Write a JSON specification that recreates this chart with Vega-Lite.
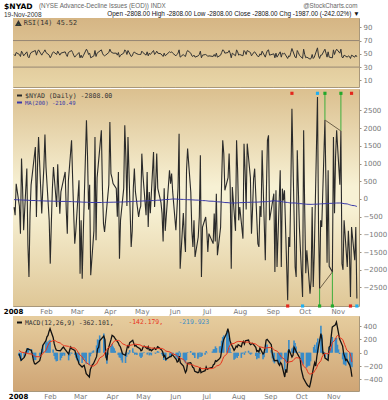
{
"$schema":"https://vega.github.io/schema/vega-lite/v6.json",
"background":"#ffffff",
"padding":{"left":2,"top":1,"right":0,"bottom":0},
"spacing":0,
"title":{"text":"(NYSE Advance-Decline Issues (EOD)) INDX","anchor":"start","frame":"group","dx":26,"offset":-8,"font":"Liberation Sans","fontSize":6.3,"fontWeight":"normal","color":"#666666"},
"config":{
 "font":"DejaVu Sans",
 "view":{"stroke":"#a8977a"},
 "axis":{"labelFont":"DejaVu Sans","labelFontSize":7,"labelColor":"#777777","tickColor":"#9a9080","tickSize":2,"domain":false,"gridColor":"#c4ad84","gridOpacity":0.55,"gridWidth":1,"labelPadding":2,"title":null,"labelOverlap":false,"labelFlush":false,"tickCount":40},
 "legend":{"labelFont":"DejaVu Sans Mono","title":null,"padding":0}
},
"resolve":{"scale":{"color":"independent","stroke":"independent","fill":"independent"},"legend":{"color":"independent","stroke":"independent","fill":"independent"}},
"datasets":{
"d":[
{"d":"2008-01-02","a":-230,"ma":-18,"r":49,"c":-15,"s":35,"h":-50},
{"d":"2008-01-03","a":-460,"ma":-20,"r":47,"c":-60,"s":25,"h":-85},
{"d":"2008-01-04","a":430,"ma":-22,"r":52,"c":-115,"s":10,"h":-125},
{"d":"2008-01-07","a":-200,"ma":-25,"r":49,"c":-70,"s":0,"h":-70},
{"d":"2008-01-08","a":-980,"ma":-27,"r":46,"c":-40,"s":-5,"h":-35},
{"d":"2008-01-09","a":1140,"ma":-28,"r":54,"c":20,"s":-5,"h":25},
{"d":"2008-01-10","a":300,"ma":-30,"r":51,"c":60,"s":-10,"h":70},
{"d":"2008-01-11","a":-880,"ma":-32,"r":47,"c":55,"s":-15,"h":70},
{"d":"2008-01-14","a":860,"ma":-34,"r":53,"c":35,"s":-20,"h":55},
{"d":"2008-01-15","a":-1300,"ma":-36,"r":46,"c":-40,"s":-30,"h":-10},
{"d":"2008-01-16","a":-2200,"ma":-38,"r":44,"c":-120,"s":-40,"h":-80},
{"d":"2008-01-17","a":-410,"ma":-40,"r":49,"c":-165,"s":-50,"h":-115},
{"d":"2008-01-18","a":400,"ma":-42,"r":52,"c":-170,"s":-60,"h":-110},
{"d":"2008-01-22","a":1470,"ma":-44,"r":55,"c":-120,"s":-60,"h":-60},
{"d":"2008-01-23","a":-510,"ma":-46,"r":48,"c":-60,"s":-50,"h":-10},
{"d":"2008-01-24","a":900,"ma":-48,"r":53,"c":20,"s":-35,"h":55},
{"d":"2008-01-25","a":1750,"ma":-50,"r":56,"c":110,"s":-10,"h":120},
{"d":"2008-01-28","a":-410,"ma":-52,"r":48,"c":180,"s":30,"h":150},
{"d":"2008-01-29","a":300,"ma":-53,"r":51,"c":240,"s":70,"h":170},
{"d":"2008-01-30","a":900,"ma":-55,"r":53,"c":260,"s":110,"h":150},
{"d":"2008-01-31","a":1820,"ma":-56,"r":56,"c":320,"s":140,"h":180},
{"d":"2008-02-01","a":900,"ma":-57,"r":52,"c":361,"s":165,"h":196},
{"d":"2008-02-04","a":-600,"ma":-58,"r":48,"c":230,"s":180,"h":50},
{"d":"2008-02-05","a":-1826,"ma":-60,"r":44,"c":136,"s":186,"h":-50},
{"d":"2008-02-06","a":-700,"ma":-61,"r":47,"c":80,"s":180,"h":-100},
{"d":"2008-02-07","a":300,"ma":-62,"r":51,"c":40,"s":170,"h":-130},
{"d":"2008-02-08","a":904,"ma":-63,"r":53,"c":35,"s":160,"h":-125},
{"d":"2008-02-11","a":-226,"ma":-64,"r":49,"c":30,"s":145,"h":-115},
{"d":"2008-02-12","a":979,"ma":-65,"r":54,"c":50,"s":130,"h":-80},
{"d":"2008-02-13","a":200,"ma":-66,"r":51,"c":70,"s":120,"h":-50},
{"d":"2008-02-14","a":-414,"ma":-67,"r":48,"c":85,"s":110,"h":-25},
{"d":"2008-02-15","a":200,"ma":-68,"r":51,"c":60,"s":105,"h":-45},
{"d":"2008-02-19","a":763,"ma":-69,"r":53,"c":-20,"s":95,"h":-115},
{"d":"2008-02-20","a":-300,"ma":-70,"r":49,"c":40,"s":85,"h":-45},
{"d":"2008-02-21","a":-979,"ma":-72,"r":46,"c":85,"s":80,"h":5},
{"d":"2008-02-22","a":500,"ma":-73,"r":52,"c":60,"s":75,"h":-15},
{"d":"2008-02-25","a":1657,"ma":-74,"r":55,"c":35,"s":70,"h":-35},
{"d":"2008-02-26","a":600,"ma":-75,"r":52,"c":-20,"s":55,"h":-75},
{"d":"2008-02-27","a":-400,"ma":-77,"r":48,"c":-80,"s":35,"h":-115},
{"d":"2008-02-28","a":-1261,"ma":-78,"r":45,"c":-115,"s":10,"h":-125},
{"d":"2008-02-29","a":-900,"ma":-80,"r":47,"c":-170,"s":-20,"h":-150},
{"d":"2008-03-03","a":527,"ma":-82,"r":52,"c":-215,"s":-60,"h":-155},
{"d":"2008-03-04","a":-2109,"ma":-84,"r":44,"c":-200,"s":-90,"h":-110},
{"d":"2008-03-05","a":-600,"ma":-86,"r":48,"c":-190,"s":-110,"h":-80},
{"d":"2008-03-06","a":-2250,"ma":-88,"r":44,"c":-250,"s":-130,"h":-120},
{"d":"2008-03-07","a":-1000,"ma":-90,"r":47,"c":-316,"s":-150,"h":-166},
{"d":"2008-03-10","a":2222,"ma":-92,"r":57,"c":-366,"s":-180,"h":-186},
{"d":"2008-03-11","a":1200,"ma":-94,"r":54,"c":-250,"s":-195,"h":-55},
{"d":"2008-03-12","a":-300,"ma":-95,"r":49,"c":-215,"s":-200,"h":-15},
{"d":"2008-03-13","a":400,"ma":-96,"r":51,"c":-180,"s":-200,"h":20},
{"d":"2008-03-14","a":-2156,"ma":-98,"r":44,"c":-165,"s":-200,"h":35},
{"d":"2008-03-17","a":-900,"ma":-99,"r":47,"c":-60,"s":-170,"h":110},
{"d":"2008-03-18","a":1751,"ma":-100,"r":55,"c":60,"s":-140,"h":200},
{"d":"2008-03-19","a":-1167,"ma":-100,"r":46,"c":80,"s":-110,"h":190},
{"d":"2008-03-20","a":600,"ma":-100,"r":51,"c":180,"s":-80,"h":260},
{"d":"2008-03-24","a":1939,"ma":-99,"r":56,"c":250,"s":-40,"h":290},
{"d":"2008-03-25","a":300,"ma":-98,"r":51,"c":200,"s":0,"h":200},
{"d":"2008-03-26","a":-700,"ma":-97,"r":48,"c":-50,"s":30,"h":-80},
{"d":"2008-03-27","a":-932,"ma":-96,"r":47,"c":-115,"s":50,"h":-165},
{"d":"2008-03-28","a":-600,"ma":-95,"r":48,"c":40,"s":70,"h":-30},
{"d":"2008-03-31","a":400,"ma":-94,"r":52,"c":200,"s":100,"h":100},
{"d":"2008-04-01","a":2175,"ma":-93,"r":57,"c":261,"s":130,"h":131},
{"d":"2008-04-02","a":716,"ma":-92,"r":53,"c":250,"s":155,"h":95},
{"d":"2008-04-03","a":600,"ma":-91,"r":52,"c":236,"s":170,"h":66},
{"d":"2008-04-04","a":433,"ma":-90,"r":51,"c":210,"s":180,"h":30},
{"d":"2008-04-07","a":300,"ma":-89,"r":51,"c":150,"s":186,"h":-36},
{"d":"2008-04-08","a":-500,"ma":-88,"r":48,"c":110,"s":180,"h":-70},
{"d":"2008-04-09","a":763,"ma":-87,"r":52,"c":90,"s":170,"h":-80},
{"d":"2008-04-10","a":-1685,"ma":-86,"r":45,"c":40,"s":155,"h":-115},
{"d":"2008-04-11","a":-600,"ma":-85,"r":48,"c":-15,"s":135,"h":-150},
{"d":"2008-04-14","a":300,"ma":-84,"r":51,"c":-40,"s":115,"h":-155},
{"d":"2008-04-15","a":2081,"ma":-82,"r":56,"c":40,"s":105,"h":-65},
{"d":"2008-04-16","a":1200,"ma":-80,"r":54,"c":100,"s":105,"h":-5},
{"d":"2008-04-17","a":-200,"ma":-78,"r":49,"c":80,"s":105,"h":-25},
{"d":"2008-04-18","a":1751,"ma":-76,"r":55,"c":150,"s":110,"h":40},
{"d":"2008-04-21","a":-1355,"ma":-74,"r":46,"c":186,"s":120,"h":66},
{"d":"2008-04-22","a":-900,"ma":-72,"r":47,"c":140,"s":128,"h":12},
{"d":"2008-04-23","a":300,"ma":-70,"r":51,"c":100,"s":130,"h":-30},
{"d":"2008-04-24","a":857,"ma":-68,"r":53,"c":110,"s":128,"h":-18},
{"d":"2008-04-25","a":200,"ma":-66,"r":51,"c":90,"s":125,"h":-35},
{"d":"2008-04-28","a":-508,"ma":-64,"r":49,"c":60,"s":118,"h":-58},
{"d":"2008-04-29","a":-300,"ma":-62,"r":49,"c":30,"s":110,"h":-80},
{"d":"2008-04-30","a":-200,"ma":-60,"r":49,"c":40,"s":100,"h":-60},
{"d":"2008-05-01","a":1281,"ma":-58,"r":54,"c":85,"s":95,"h":-10},
{"d":"2008-05-02","a":700,"ma":-56,"r":52,"c":100,"s":92,"h":8},
{"d":"2008-05-05","a":-461,"ma":-54,"r":48,"c":60,"s":88,"h":-28},
{"d":"2008-05-06","a":763,"ma":-52,"r":53,"c":90,"s":85,"h":5},
{"d":"2008-05-07","a":-791,"ma":-50,"r":47,"c":40,"s":80,"h":-40},
{"d":"2008-05-08","a":200,"ma":-48,"r":51,"c":50,"s":75,"h":-25},
{"d":"2008-05-09","a":-400,"ma":-46,"r":49,"c":30,"s":70,"h":-40},
{"d":"2008-05-12","a":1328,"ma":-44,"r":55,"c":70,"s":68,"h":2},
{"d":"2008-05-13","a":-226,"ma":-42,"r":49,"c":50,"s":66,"h":-16},
{"d":"2008-05-14","a":400,"ma":-40,"r":51,"c":60,"s":64,"h":-4},
{"d":"2008-05-15","a":1281,"ma":-38,"r":54,"c":90,"s":64,"h":26},
{"d":"2008-05-16","a":300,"ma":-35,"r":51,"c":80,"s":65,"h":15},
{"d":"2008-05-19","a":-100,"ma":-32,"r":50,"c":40,"s":64,"h":-24},
{"d":"2008-05-20","a":-414,"ma":-28,"r":48,"c":10,"s":60,"h":-50},
{"d":"2008-05-21","a":-1200,"ma":-24,"r":46,"c":-60,"s":50,"h":-110},
{"d":"2008-05-22","a":300,"ma":-20,"r":51,"c":-40,"s":40,"h":-80},
{"d":"2008-05-23","a":-900,"ma":-16,"r":47,"c":-100,"s":25,"h":-125},
{"d":"2008-05-27","a":810,"ma":-12,"r":53,"c":-60,"s":10,"h":-70},
{"d":"2008-05-28","a":433,"ma":-8,"r":52,"c":-60,"s":0,"h":-60},
{"d":"2008-05-29","a":716,"ma":-4,"r":53,"c":-30,"s":-10,"h":-20},
{"d":"2008-05-30","a":200,"ma":0,"r":51,"c":-40,"s":-20,"h":-20},
{"d":"2008-06-02","a":-885,"ma":-2,"r":47,"c":-100,"s":-35,"h":-65},
{"d":"2008-06-03","a":-300,"ma":-4,"r":49,"c":-140,"s":-50,"h":-90},
{"d":"2008-06-04","a":300,"ma":-6,"r":51,"c":-130,"s":-65,"h":-65},
{"d":"2008-06-05","a":1845,"ma":-8,"r":56,"c":-50,"s":-70,"h":20},
{"d":"2008-06-06","a":-1968,"ma":-10,"r":45,"c":-150,"s":-85,"h":-65},
{"d":"2008-06-09","a":-400,"ma":-12,"r":49,"c":-200,"s":-100,"h":-100},
{"d":"2008-06-10","a":-1073,"ma":-14,"r":47,"c":-250,"s":-120,"h":-130},
{"d":"2008-06-11","a":-1500,"ma":-16,"r":46,"c":-300,"s":-140,"h":-160},
{"d":"2008-06-12","a":810,"ma":-18,"r":52,"c":-270,"s":-160,"h":-110},
{"d":"2008-06-13","a":1422,"ma":-20,"r":55,"c":-160,"s":-170,"h":10},
{"d":"2008-06-16","a":200,"ma":-22,"r":51,"c":-150,"s":-175,"h":25},
{"d":"2008-06-17","a":-900,"ma":-24,"r":47,"c":-180,"s":-180,"h":0},
{"d":"2008-06-18","a":-1355,"ma":-26,"r":46,"c":-220,"s":-185,"h":-35},
{"d":"2008-06-19","a":-603,"ma":-28,"r":48,"c":-230,"s":-190,"h":-40},
{"d":"2008-06-20","a":-1638,"ma":-30,"r":45,"c":-280,"s":-200,"h":-80},
{"d":"2008-06-23","a":-1073,"ma":-33,"r":47,"c":-300,"s":-210,"h":-90},
{"d":"2008-06-24","a":-500,"ma":-36,"r":49,"c":-290,"s":-220,"h":-70},
{"d":"2008-06-25","a":1234,"ma":-39,"r":54,"c":-220,"s":-225,"h":5},
{"d":"2008-06-26","a":-2203,"ma":-42,"r":44,"c":-300,"s":-235,"h":-65},
{"d":"2008-06-27","a":-791,"ma":-45,"r":48,"c":-290,"s":-240,"h":-50},
{"d":"2008-06-30","a":-508,"ma":-48,"r":49,"c":-270,"s":-240,"h":-30},
{"d":"2008-07-01","a":-885,"ma":-52,"r":48,"c":-215,"s":-240,"h":25},
{"d":"2008-07-02","a":-1497,"ma":-56,"r":46,"c":-250,"s":-240,"h":-10},
{"d":"2008-07-03","a":-979,"ma":-60,"r":47,"c":-240,"s":-240,"h":0},
{"d":"2008-07-07","a":-1261,"ma":-64,"r":46,"c":-220,"s":-238,"h":18},
{"d":"2008-07-08","a":-414,"ma":-68,"r":49,"c":-180,"s":-232,"h":52},
{"d":"2008-07-09","a":-1200,"ma":-72,"r":46,"c":-170,"s":-225,"h":55},
{"d":"2008-07-10","a":150,"ma":-76,"r":51,"c":-120,"s":-215,"h":95},
{"d":"2008-07-11","a":-1591,"ma":-80,"r":45,"c":-130,"s":-200,"h":70},
{"d":"2008-07-14","a":-800,"ma":-84,"r":48,"c":-90,"s":-185,"h":95},
{"d":"2008-07-15","a":527,"ma":-88,"r":52,"c":-65,"s":-165,"h":100},
{"d":"2008-07-16","a":1657,"ma":-92,"r":56,"c":40,"s":-140,"h":180},
{"d":"2008-07-17","a":1281,"ma":-96,"r":55,"c":136,"s":-100,"h":236},
{"d":"2008-07-18","a":245,"ma":-100,"r":51,"c":200,"s":-60,"h":260},
{"d":"2008-07-21","a":600,"ma":-104,"r":52,"c":300,"s":-20,"h":320},
{"d":"2008-07-22","a":1281,"ma":-108,"r":55,"c":361,"s":30,"h":331},
{"d":"2008-07-23","a":339,"ma":-111,"r":51,"c":300,"s":80,"h":220},
{"d":"2008-07-24","a":-1968,"ma":-113,"r":44,"c":186,"s":110,"h":76},
{"d":"2008-07-25","a":339,"ma":-113,"r":51,"c":140,"s":130,"h":10},
{"d":"2008-07-28","a":-900,"ma":-112,"r":47,"c":35,"s":140,"h":-105},
{"d":"2008-07-29","a":1657,"ma":-110,"r":56,"c":60,"s":150,"h":-90},
{"d":"2008-07-30","a":800,"ma":-108,"r":53,"c":100,"s":160,"h":-60},
{"d":"2008-07-31","a":-603,"ma":-106,"r":48,"c":85,"s":165,"h":-80},
{"d":"2008-08-01","a":-226,"ma":-104,"r":49,"c":120,"s":170,"h":-50},
{"d":"2008-08-04","a":-1120,"ma":-102,"r":47,"c":90,"s":168,"h":-78},
{"d":"2008-08-05","a":1563,"ma":-100,"r":55,"c":150,"s":166,"h":-16},
{"d":"2008-08-06","a":800,"ma":-98,"r":53,"c":170,"s":165,"h":5},
{"d":"2008-08-07","a":-300,"ma":-96,"r":49,"c":130,"s":162,"h":-32},
{"d":"2008-08-08","a":1563,"ma":-95,"r":55,"c":180,"s":160,"h":20},
{"d":"2008-08-11","a":600,"ma":-94,"r":52,"c":190,"s":160,"h":30},
{"d":"2008-08-12","a":-979,"ma":-93,"r":47,"c":140,"s":155,"h":-15},
{"d":"2008-08-13","a":-300,"ma":-92,"r":49,"c":120,"s":150,"h":-30},
{"d":"2008-08-14","a":575,"ma":-91,"r":52,"c":130,"s":145,"h":-15},
{"d":"2008-08-15","a":857,"ma":-90,"r":53,"c":140,"s":140,"h":0},
{"d":"2008-08-18","a":-1261,"ma":-88,"r":46,"c":80,"s":130,"h":-50},
{"d":"2008-08-19","a":-1355,"ma":-86,"r":46,"c":20,"s":118,"h":-98},
{"d":"2008-08-20","a":-200,"ma":-84,"r":50,"c":30,"s":105,"h":-75},
{"d":"2008-08-21","a":-508,"ma":-82,"r":48,"c":10,"s":95,"h":-85},
{"d":"2008-08-22","a":1375,"ma":-80,"r":54,"c":70,"s":88,"h":-18},
{"d":"2008-08-25","a":-1732,"ma":-78,"r":45,"c":-20,"s":78,"h":-98},
{"d":"2008-08-26","a":200,"ma":-76,"r":51,"c":0,"s":70,"h":-70},
{"d":"2008-08-27","a":1657,"ma":-74,"r":55,"c":80,"s":68,"h":12},
{"d":"2008-08-28","a":1798,"ma":-70,"r":56,"c":190,"s":70,"h":120},
{"d":"2008-08-29","a":-600,"ma":-64,"r":48,"c":200,"s":75,"h":125},
{"d":"2008-09-02","a":150,"ma":-52,"r":50,"c":120,"s":80,"h":40},
{"d":"2008-09-03","a":-2062,"ma":-50,"r":44,"c":-15,"s":70,"h":-85},
{"d":"2008-09-04","a":245,"ma":-55,"r":51,"c":-80,"s":55,"h":-135},
{"d":"2008-09-05","a":-1920,"ma":-60,"r":45,"c":-120,"s":40,"h":-160},
{"d":"2008-09-08","a":810,"ma":-65,"r":53,"c":-115,"s":20,"h":-135},
{"d":"2008-09-09","a":-1920,"ma":-72,"r":45,"c":-165,"s":0,"h":-165},
{"d":"2008-09-10","a":292,"ma":-78,"r":51,"c":-190,"s":-25,"h":-165},
{"d":"2008-09-11","a":-38,"ma":-84,"r":50,"c":-150,"s":-50,"h":-100},
{"d":"2008-09-12","a":245,"ma":-90,"r":51,"c":-170,"s":-70,"h":-100},
{"d":"2008-09-15","a":-2863,"ma":-98,"r":43,"c":-366,"s":-100,"h":-266},
{"d":"2008-09-16","a":-1073,"ma":-104,"r":47,"c":-250,"s":-125,"h":-125},
{"d":"2008-09-17","a":-1355,"ma":-110,"r":46,"c":-300,"s":-150,"h":-150},
{"d":"2008-09-18","a":400,"ma":-113,"r":52,"c":-115,"s":-150,"h":35},
{"d":"2008-09-19","a":2551,"ma":-112,"r":58,"c":50,"s":-140,"h":190},
{"d":"2008-09-22","a":-1920,"ma":-113,"r":45,"c":-65,"s":-130,"h":65},
{"d":"2008-09-23","a":-2203,"ma":-118,"r":44,"c":-40,"s":-120,"h":80},
{"d":"2008-09-24","a":1375,"ma":-122,"r":55,"c":85,"s":-100,"h":185},
{"d":"2008-09-25","a":300,"ma":-126,"r":52,"c":60,"s":-85,"h":145},
{"d":"2008-09-26","a":-791,"ma":-130,"r":48,"c":20,"s":-75,"h":95},
{"d":"2008-09-29","a":-2769,"ma":-135,"r":43,"c":-65,"s":-80,"h":15},
{"d":"2008-09-30","a":1939,"ma":-140,"r":57,"c":-100,"s":-95,"h":-5},
{"d":"2008-10-01","a":-300,"ma":-143,"r":49,"c":-250,"s":-120,"h":-130},
{"d":"2008-10-02","a":-2100,"ma":-146,"r":44,"c":-316,"s":-160,"h":-156},
{"d":"2008-10-03","a":-1450,"ma":-149,"r":45,"c":-380,"s":-200,"h":-180},
{"d":"2008-10-06","a":-2674,"ma":-151,"r":42,"c":-466,"s":-240,"h":-226},
{"d":"2008-10-07","a":-2300,"ma":-152,"r":43,"c":-490,"s":-280,"h":-210},
{"d":"2008-10-08","a":-226,"ma":-151,"r":49,"c":-506,"s":-310,"h":-196},
{"d":"2008-10-09","a":-2486,"ma":-150,"r":43,"c":-516,"s":-320,"h":-196},
{"d":"2008-10-10","a":-1544,"ma":-148,"r":45,"c":-450,"s":-320,"h":-130},
{"d":"2008-10-13","a":2881,"ma":-145,"r":59,"c":-215,"s":-300,"h":85},
{"d":"2008-10-14","a":-800,"ma":-142,"r":47,"c":-150,"s":-270,"h":120},
{"d":"2008-10-15","a":-2534,"ma":-140,"r":43,"c":-200,"s":-250,"h":50},
{"d":"2008-10-16","a":-600,"ma":-138,"r":48,"c":-65,"s":-220,"h":155},
{"d":"2008-10-17","a":-791,"ma":-136,"r":48,"c":35,"s":-180,"h":215},
{"d":"2008-10-20","a":2232,"ma":-133,"r":57,"c":286,"s":-120,"h":406},
{"d":"2008-10-21","a":339,"ma":-130,"r":51,"c":200,"s":-70,"h":270},
{"d":"2008-10-22","a":-1800,"ma":-128,"r":45,"c":-15,"s":-40,"h":25},
{"d":"2008-10-23","a":810,"ma":-126,"r":53,"c":-10,"s":-20,"h":10},
{"d":"2008-10-24","a":-1900,"ma":-124,"r":45,"c":-80,"s":-10,"h":-70},
{"d":"2008-10-27","a":-2062,"ma":-122,"r":44,"c":-115,"s":-20,"h":-95},
{"d":"2008-10-28","a":1751,"ma":-120,"r":56,"c":85,"s":0,"h":85},
{"d":"2008-10-29","a":-400,"ma":-118,"r":49,"c":100,"s":40,"h":60},
{"d":"2008-10-30","a":1200,"ma":-116,"r":54,"c":250,"s":90,"h":160},
{"d":"2008-10-31","a":1939,"ma":-114,"r":57,"c":386,"s":150,"h":236},
{"d":"2008-11-03","a":400,"ma":-113,"r":51,"c":420,"s":200,"h":220},
{"d":"2008-11-04","a":1921,"ma":-112,"r":57,"c":461,"s":240,"h":221},
{"d":"2008-11-05","a":-1826,"ma":-118,"r":45,"c":380,"s":260,"h":120},
{"d":"2008-11-06","a":-2000,"ma":-125,"r":44,"c":300,"s":250,"h":50},
{"d":"2008-11-07","a":-600,"ma":-132,"r":48,"c":210,"s":230,"h":-20},
{"d":"2008-11-10","a":-1920,"ma":-140,"r":45,"c":100,"s":200,"h":-100},
{"d":"2008-11-11","a":-900,"ma":-150,"r":47,"c":-15,"s":160,"h":-175},
{"d":"2008-11-12","a":-1500,"ma":-160,"r":46,"c":-60,"s":120,"h":-180},
{"d":"2008-11-13","a":-2769,"ma":-170,"r":43,"c":-115,"s":80,"h":-195},
{"d":"2008-11-14","a":-791,"ma":-180,"r":48,"c":-100,"s":40,"h":-140},
{"d":"2008-11-17","a":-1732,"ma":-190,"r":45,"c":-190,"s":0,"h":-190},
{"d":"2008-11-18","a":-791,"ma":-200,"r":48,"c":-250,"s":-60,"h":-190},
{"d":"2008-11-19","a":-2808,"ma":-210.49,"r":45.52,"c":-362.101,"s":-142.179,"h":-219.923}
],
"dots":[
{"d":"2008-09-19","side":"top","kind":"red"},
{"d":"2008-10-13","side":"top","kind":"blue"},
{"d":"2008-10-20","side":"top","kind":"green"},
{"d":"2008-11-04","side":"top","kind":"green"},
{"d":"2008-11-14","side":"top","kind":"red"},
{"d":"2008-09-15","side":"bottom","kind":"red"},
{"d":"2008-09-29","side":"bottom","kind":"blue"},
{"d":"2008-10-15","side":"bottom","kind":"green"},
{"d":"2008-10-27","side":"bottom","kind":"green"},
{"d":"2008-11-13","side":"bottom","kind":"red"},
{"d":"2008-11-19","side":"bottom","kind":"blue"}
],
"trend":[
{"d":"2008-10-20","v":2232,"side":"top"},
{"d":"2008-11-04","v":1921,"side":"top"},
{"d":"2008-10-15","v":-2534,"side":"bottom"},
{"d":"2008-10-27","v":-2062,"side":"bottom"}
]
},
"vconcat":[
{
"width":346,"height":69,
"title":{"text":"$NYAD","subtitle":"19-Nov-2008","anchor":"start","frame":"group","dx":-9,"offset":-16,"font":"DejaVu Sans","fontSize":7.6,"fontWeight":"bold","color":"#000000","subtitleFont":"Liberation Sans","subtitleFontSize":6.5,"subtitleColor":"#333333","subtitlePadding":1},
"layer":[
{"data":{"values":[{}]},
 "mark":{"type":"rect","strokeWidth":0,"color":{"gradient":"linear","x1":0,"y1":0,"x2":0,"y2":1,"stops":[{"offset":0,"color":"#d5b584"},{"offset":1,"color":"#e8d6a8"}]}},
 "encoding":{"y":{"datum":104},"y2":{"datum":0}}},
{"data":{"name":"d"},
 "mark":{"type":"line","strokeWidth":1},
 "encoding":{
  "x":{"field":"d","type":"temporal","scale":{"type":"utc","domain":[{"year":2008,"month":1,"date":1,"utc":true},{"year":2008,"month":11,"date":21,"utc":true}]},
   "axis":{"orient":"top","labels":false,"ticks":false,"grid":true,"tickCount":40,
    "values":[{"year":2008,"month":1,"date":1,"utc":true},{"year":2008,"month":2,"date":1,"utc":true},{"year":2008,"month":3,"date":1,"utc":true},{"year":2008,"month":4,"date":1,"utc":true},{"year":2008,"month":5,"date":1,"utc":true},{"year":2008,"month":6,"date":1,"utc":true},{"year":2008,"month":7,"date":1,"utc":true},{"year":2008,"month":8,"date":1,"utc":true},{"year":2008,"month":9,"date":1,"utc":true},{"year":2008,"month":10,"date":1,"utc":true},{"year":2008,"month":11,"date":1,"utc":true}],
    "title":"Open -2808.00  High -2808.00  Low -2808.00  Close -2808.00  Chg -1987.00 (-242.02%) ▼","titleFont":"Liberation Sans","titleFontSize":6.4,"titleFontWeight":"normal","titleColor":"#111111","titleAlign":"right","titleX":346,"titleY":-3,"titleBaseline":"alphabetic"}},
  "y":{"field":"r","type":"quantitative","scale":{"domain":[0,104],"nice":false,"zero":false},
   "axis":{"orient":"right","values":[10,30,50,70,90],"tickCount":40,"grid":true,"title":"@StockCharts.com","titleAngle":0,"titleAlign":"right","titleBaseline":"alphabetic","titleX":-2,"titleY":-11,"titleFont":"Liberation Sans","titleFontSize":6.3,"titleFontWeight":"normal","titleColor":"#666666"}},
  "color":{"datum":"RSI(14) 45.52","scale":{"domain":["RSI(14) 45.52"],"range":["#333333"]},
   "legend":{"orient":"top-left","offset":2,"symbolType":"triangle-up","symbolSize":18,"symbolFillColor":"#2f9a2f","labelFontSize":6.8,"labelColor":"#333333","labelOffset":2}}
 }},
{"data":{"values":[{"lvl":70},{"lvl":30}]},
 "mark":{"type":"rule","color":"#958673","strokeWidth":1},
 "encoding":{"y":{"field":"lvl","type":"quantitative"}}}
]
},
{
"width":346,"height":217,
"layer":[
{"data":{"values":[{}]},
 "mark":{"type":"rect","strokeWidth":0,"color":{"gradient":"linear","x1":0,"y1":0,"x2":0,"y2":1,"stops":[{"offset":0,"color":"#dbc08f"},{"offset":0.45,"color":"#f7f1d4"},{"offset":0.55,"color":"#f7f1d4"},{"offset":1,"color":"#dfc797"}]}},
 "encoding":{"y":{"datum":3107},"y2":{"datum":-3023}}},
{"data":{"name":"d"},
 "mark":{"type":"line","strokeWidth":1.1},
 "encoding":{
  "x":{"field":"d","type":"temporal","scale":{"type":"utc","domain":[{"year":2008,"month":1,"date":1,"utc":true},{"year":2008,"month":11,"date":21,"utc":true}]},
   "axis":{"orient":"bottom","ticks":false,"grid":true,"labelPadding":1,"tickCount":40,
    "values":[{"year":2008,"month":1,"date":1,"utc":true},{"year":2008,"month":2,"date":1,"utc":true},{"year":2008,"month":3,"date":1,"utc":true},{"year":2008,"month":4,"date":1,"utc":true},{"year":2008,"month":5,"date":1,"utc":true},{"year":2008,"month":6,"date":1,"utc":true},{"year":2008,"month":7,"date":1,"utc":true},{"year":2008,"month":8,"date":1,"utc":true},{"year":2008,"month":9,"date":1,"utc":true},{"year":2008,"month":10,"date":1,"utc":true},{"year":2008,"month":11,"date":1,"utc":true}],
    "labelExpr":"utcmonth(datum.value) == 0 ? '2008' : utcFormat(datum.value, '%b')",
    "labelFontWeight":{"condition":{"test":"utcmonth(datum.value) == 0","value":"bold"},"value":"normal"},
    "labelColor":{"condition":{"test":"utcmonth(datum.value) == 0","value":"#000000"},"value":"#777777"}}},
  "y":{"field":"a","type":"quantitative","scale":{"domain":[-3023,3107],"nice":false,"zero":false},
   "axis":{"orient":"right","format":"d","tickCount":40,"values":[-2500,-2000,-1500,-1000,-500,0,500,1000,1500,2000,2500],"grid":true}},
  "color":{"datum":"$NYAD (Daily) -2808.00","scale":{"domain":["$NYAD (Daily) -2808.00"],"range":["#2a2a2a"]},
   "legend":{"orient":"top-left","offset":3,"symbolType":"stroke","symbolSize":25,"symbolStrokeWidth":2,"labelFontSize":6.6,"labelOffset":2,"labelColor":"#333333"}}
 }},
{"data":{"name":"d"},
 "mark":{"type":"line","strokeWidth":1},
 "encoding":{"x":{"field":"d","type":"temporal"},"y":{"field":"ma","type":"quantitative"},
  "stroke":{"datum":"MA(200) -210.49","scale":{"domain":["MA(200) -210.49"],"range":["#3838a8"]},
   "legend":{"orient":"none","legendX":3,"legendY":10,"symbolType":"stroke","symbolSize":25,"symbolStrokeWidth":2,"labelFontSize":5.6,"labelOffset":2,"labelColor":"#3838a8"}}}},
{"data":{"name":"trend"},"transform":[{"filter":"datum.side == 'top'"}],
 "mark":{"type":"rule","color":"#3cae3c","strokeWidth":1},
 "encoding":{"x":{"field":"d","type":"temporal"},"y":{"field":"v","type":"quantitative"},"y2":{"datum":2990}}},
{"data":{"name":"trend"},"transform":[{"filter":"datum.side == 'bottom'"}],
 "mark":{"type":"rule","color":"#3cae3c","strokeWidth":1},
 "encoding":{"x":{"field":"d","type":"temporal"},"y":{"field":"v","type":"quantitative"},"y2":{"datum":-3023}}},
{"data":{"name":"trend"},
 "mark":{"type":"line","color":"#6e6048","strokeWidth":1},
 "encoding":{"x":{"field":"d","type":"temporal"},"y":{"field":"v","type":"quantitative"},"detail":{"field":"side","type":"nominal"}}},
{"data":{"name":"dots"},"transform":[{"filter":"datum.side == 'top' && datum.kind == 'red'"}],
 "mark":{"type":"square","size":10,"filled":true,"color":"#e4261c","opacity":1,"clip":false},
 "encoding":{"x":{"field":"d","type":"temporal"},"y":{"datum":2985}}},
{"data":{"name":"dots"},"transform":[{"filter":"datum.side == 'top' && datum.kind == 'blue'"}],
 "mark":{"type":"square","size":10,"filled":true,"color":"#1eaef0","opacity":1,"clip":false},
 "encoding":{"x":{"field":"d","type":"temporal"},"y":{"datum":2985}}},
{"data":{"name":"dots"},"transform":[{"filter":"datum.side == 'top' && datum.kind == 'green'"}],
 "mark":{"type":"square","size":10,"filled":true,"color":"#22a82a","opacity":1,"clip":false},
 "encoding":{"x":{"field":"d","type":"temporal"},"y":{"datum":2985}}},
{"data":{"name":"dots"},"transform":[{"filter":"datum.side == 'bottom' && datum.kind == 'red'"}],
 "mark":{"type":"square","size":10,"filled":true,"color":"#e4261c","opacity":1,"clip":false},
 "encoding":{"x":{"field":"d","type":"temporal"},"y":{"datum":-3023}}},
{"data":{"name":"dots"},"transform":[{"filter":"datum.side == 'bottom' && datum.kind == 'blue'"}],
 "mark":{"type":"square","size":10,"filled":true,"color":"#1eaef0","opacity":1,"clip":false},
 "encoding":{"x":{"field":"d","type":"temporal"},"y":{"datum":-3023}}},
{"data":{"name":"dots"},"transform":[{"filter":"datum.side == 'bottom' && datum.kind == 'green'"}],
 "mark":{"type":"square","size":10,"filled":true,"color":"#22a82a","opacity":1,"clip":false},
 "encoding":{"x":{"field":"d","type":"temporal"},"y":{"datum":-3023}}}
]
},
{
"width":346,"height":75,
"layer":[
{"data":{"values":[{}]},
 "mark":{"type":"rect","strokeWidth":0,"color":{"gradient":"linear","x1":0,"y1":0,"x2":0,"y2":1,"stops":[{"offset":0,"color":"#e6cd9e"},{"offset":1,"color":"#cfa575"}]}},
 "encoding":{"y":{"datum":552},"y2":{"datum":-576}}},
{"data":{"name":"d"},
 "mark":{"type":"bar","width":1.6,"color":"#3a8cc8"},
 "encoding":{
  "x":{"field":"d","type":"temporal","scale":{"type":"utc","domain":[{"year":2008,"month":1,"date":1,"utc":true},{"year":2008,"month":11,"date":21,"utc":true}]},
   "axis":{"orient":"bottom","ticks":false,"grid":true,"labelPadding":1,"tickCount":40,
    "values":[{"year":2008,"month":1,"date":1,"utc":true},{"year":2008,"month":2,"date":1,"utc":true},{"year":2008,"month":3,"date":1,"utc":true},{"year":2008,"month":4,"date":1,"utc":true},{"year":2008,"month":5,"date":1,"utc":true},{"year":2008,"month":6,"date":1,"utc":true},{"year":2008,"month":7,"date":1,"utc":true},{"year":2008,"month":8,"date":1,"utc":true},{"year":2008,"month":9,"date":1,"utc":true},{"year":2008,"month":10,"date":1,"utc":true},{"year":2008,"month":11,"date":1,"utc":true}],
    "labelExpr":"utcmonth(datum.value) == 0 ? '2008' : utcFormat(datum.value, '%b')",
    "labelFontWeight":{"condition":{"test":"utcmonth(datum.value) == 0","value":"bold"},"value":"normal"},
    "labelColor":{"condition":{"test":"utcmonth(datum.value) == 0","value":"#000000"},"value":"#777777"}}},
  "y":{"field":"h","type":"quantitative","scale":{"domain":[-576,552],"nice":false,"zero":false},
   "axis":{"orient":"right","format":"d","tickCount":40,"values":[-400,-200,0,200,400],"grid":true}}
 }},
{"data":{"name":"d"},
 "mark":{"type":"line","strokeWidth":1.3},
 "encoding":{"x":{"field":"d","type":"temporal"},"y":{"field":"c","type":"quantitative"},
  "color":{"datum":"MACD(12,26,9) -362.101,","scale":{"domain":["MACD(12,26,9) -362.101,"],"range":["#111111"]},
   "legend":{"orient":"top-left","offset":3,"symbolType":"stroke","symbolSize":25,"symbolStrokeWidth":2,"labelFontSize":6.4,"labelOffset":2,"labelColor":"#333333"}}}},
{"data":{"name":"d"},
 "mark":{"type":"line","strokeWidth":1},
 "encoding":{"x":{"field":"d","type":"temporal"},"y":{"field":"s","type":"quantitative"},
  "stroke":{"datum":"-142.179,","scale":{"domain":["-142.179,"],"range":["#e8321c"]},
   "legend":{"orient":"top-left","offset":3,"symbolType":"stroke","symbolSize":1,"symbolOpacity":0,"labelFontSize":6.4,"labelOffset":0,"labelColor":"#e8321c"}}}},
{"data":{"values":[{}]},
 "mark":{"type":"point","opacity":0,"filled":true},
 "encoding":{
  "fill":{"datum":"-219.923","scale":{"domain":["-219.923"],"range":["#3a8cc8"]},
   "legend":{"orient":"top-left","offset":3,"symbolType":"stroke","symbolSize":1,"symbolOpacity":0,"labelFontSize":6.4,"labelOffset":0,"labelColor":"#3a8cc8"}}}}
]
}
]
}
